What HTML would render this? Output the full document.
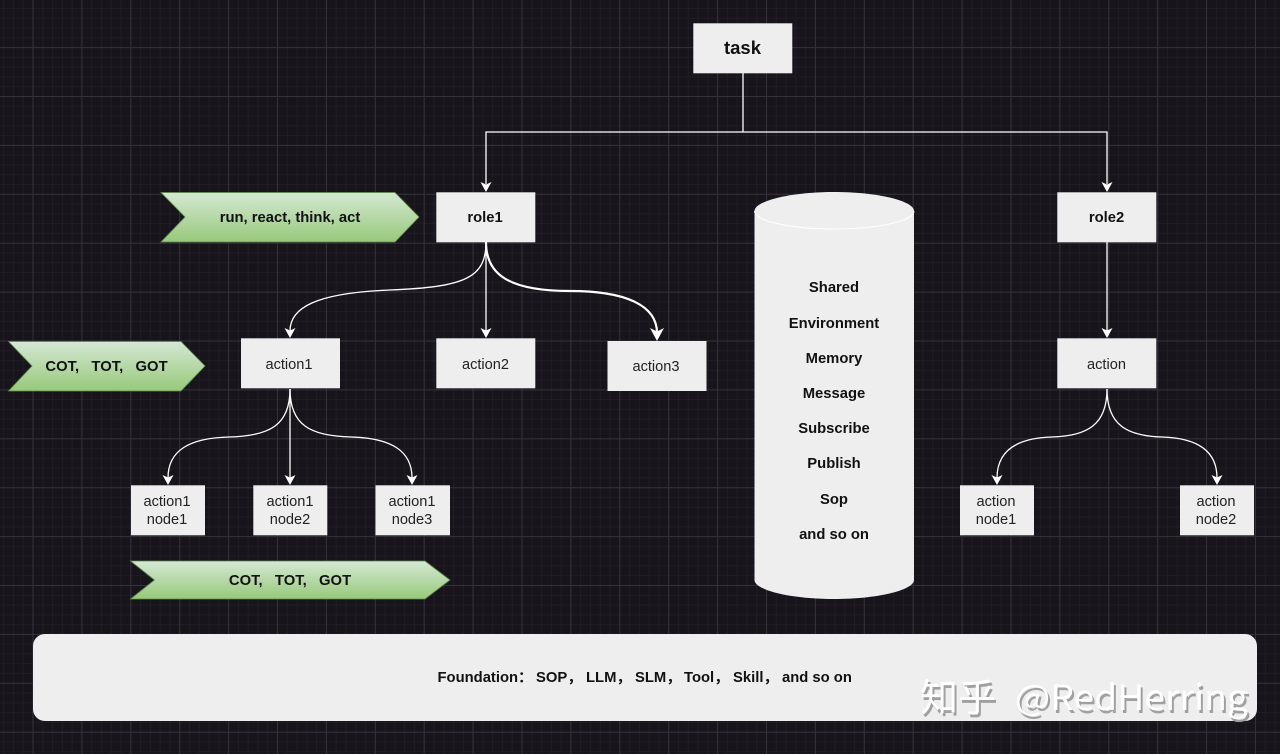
<!DOCTYPE html>
<html><head><meta charset="utf-8"><style>
html,body{margin:0;padding:0;background:#17151b;width:1280px;height:754px;overflow:hidden}
svg{display:block}
text{font-family:"Liberation Sans","Noto Sans CJK SC",sans-serif;text-anchor:middle;fill:#111}
.b{font-weight:700;font-size:14.8px}
.s{text-anchor:start}
.n{font-size:14.6px;fill:#222}
.c{fill:none;stroke:#fff;stroke-width:1.3}
.box{fill:#eee}
.ar{fill:#fff}
.wm{font-family:"Noto Sans CJK SC","Liberation Sans",sans-serif;text-anchor:start}
</style></head><body>
<svg width="1280" height="754" viewBox="0 0 1280 754" xmlns="http://www.w3.org/2000/svg">
<defs>
<pattern id="minor" width="9.78" height="9.78" patternUnits="userSpaceOnUse" x="28.11" y="42.7">
<path d="M4.89 0V9.78M0 4.89H9.78" stroke="#1f1d23" stroke-width="1" fill="none"/>
</pattern>
<pattern id="major" width="48.9" height="48.9" patternUnits="userSpaceOnUse" x="8.55" y="23.15">
<path d="M24.45 0V48.9M0 24.45H48.9" stroke="#343238" stroke-width="1" fill="none"/>
</pattern>
<linearGradient id="g" x1="0" y1="0" x2="0" y2="1">
<stop offset="0" stop-color="#d5e8d4"/><stop offset="1" stop-color="#97c97a"/>
</linearGradient>
<path id="ah" class="ar" d="M0 0L-5.500 -10L0 -7.500L5.500 -10Z"/>
<path id="ah2" class="ar" d="M0 0L-7 -13L0 -9.500L7 -13Z"/>
</defs>
<rect width="1280" height="754" fill="#17151b"/>
<rect width="1280" height="754" fill="url(#minor)"/>
<rect width="1280" height="754" fill="url(#major)"/>

<!-- connectors -->
<path class="c" d="M743 73V132M486 184V132H1107V184"/>
<use href="#ah" x="486" y="192"/><use href="#ah" x="1107" y="192"/>

<path class="c" d="M486 242C486 278 465 287 390 290C315 293 290 308 290 331"/>
<use href="#ah" x="290" y="338"/>
<path class="c" d="M486 242V331"/>
<use href="#ah" x="486" y="338"/>
<path class="c" style="stroke-width:2.2" d="M486 242C486 272 505 291 570 291C625 291 657 305 657 333"/>
<use href="#ah2" x="657" y="341"/>

<path class="c" d="M1107 242V331"/>
<use href="#ah" x="1107" y="338"/>

<path class="c" d="M290 389C290 425 270 436 229 437C190 438 168 450 168 478"/>
<use href="#ah" x="168" y="485"/>
<path class="c" d="M290 389V478"/>
<use href="#ah" x="290" y="485"/>
<path class="c" d="M290 389C290 425 310 436 351 437C390 438 412 450 412 478"/>
<use href="#ah" x="412" y="485"/>

<path class="c" d="M1107 389C1107 425 1087 436 1052 437C1018 438 997 450 997 478"/>
<use href="#ah" x="997" y="485"/>
<path class="c" d="M1107 389C1107 425 1127 436 1162 437C1196 438 1217 450 1217 478"/>
<use href="#ah" x="1217" y="485"/>

<!-- boxes -->
<rect class="box" x="693.300" y="23.300" width="99" height="50"/>
<text x="742.500" y="54" style="font-weight:700;font-size:18.500px">task</text>
<rect class="box" x="436.300" y="192.300" width="99" height="50"/>
<text class="b" x="485" y="222">role1</text>
<rect class="box" x="1057.300" y="192.300" width="99" height="50"/>
<text class="b" x="1106.500" y="222">role2</text>
<rect class="box" x="241" y="338.300" width="99" height="50"/>
<text class="n" x="289" y="369">action1</text>
<rect class="box" x="436.300" y="338.300" width="99" height="50"/>
<text class="n" x="485.500" y="369">action2</text>
<rect class="box" x="607.500" y="341" width="99" height="50"/>
<text class="n" x="656" y="371">action3</text>
<rect class="box" x="1057.300" y="338.300" width="99" height="50"/>
<text class="n" x="1106.500" y="369">action</text>

<rect class="box" x="131" y="485.300" width="74" height="50"/>
<text class="n" x="167" y="506">action1</text><text class="n" x="167" y="524">node1</text>
<rect class="box" x="253.300" y="485.300" width="74" height="50"/>
<text class="n" x="290" y="506">action1</text><text class="n" x="290" y="524">node2</text>
<rect class="box" x="375.500" y="485.300" width="74.500" height="50"/>
<text class="n" x="412" y="506">action1</text><text class="n" x="412" y="524">node3</text>
<rect class="box" x="960" y="485.300" width="74" height="50"/>
<text class="n" x="996" y="506">action</text><text class="n" x="996" y="524">node1</text>
<rect class="box" x="1180" y="485.300" width="74" height="50"/>
<text class="n" x="1216" y="506">action</text><text class="n" x="1216" y="524">node2</text>

<!-- green arrows -->
<path d="M161 192.500H395L419 217L395 242H161L185 217Z" fill="url(#g)" stroke="#5f8a4a" stroke-width="0.8"/>
<text class="b" x="290" y="222">run, react, think, act</text>
<path d="M8.500 341.500H181L205 366L181 391H8.500L32 366Z" fill="url(#g)" stroke="#5f8a4a" stroke-width="0.8"/>
<text class="b" x="106.500" y="371" xml:space="preserve">COT,   TOT,   GOT</text>
<path d="M130.500 561H425L450 580L425 599H130.500L154.500 580Z" fill="url(#g)" stroke="#5f8a4a" stroke-width="0.8"/>
<text class="b" x="290" y="585" xml:space="preserve">COT,   TOT,   GOT</text>

<!-- cylinder -->
<path d="M754.500 211C754.500 201 790 192 834 192C878 192 914 201 914 211V580C914 590 878 599 834 599C790 599 754.500 590 754.500 580Z" fill="#eee"/>
<path d="M754.500 211C754.500 221 790 229 834 229C878 229 914 221 914 211" fill="none" stroke="#fff" stroke-width="1"/>
<text class="b" x="834" y="292">Shared</text>
<text class="b" x="834" y="328">Environment</text>
<text class="b" x="834" y="363">Memory</text>
<text class="b" x="834" y="398">Message</text>
<text class="b" x="834" y="433">Subscribe</text>
<text class="b" x="834" y="468">Publish</text>
<text class="b" x="834" y="504">Sop</text>
<text class="b" x="834" y="539">and so on</text>

<!-- foundation -->
<rect x="33" y="634" width="1224" height="87" rx="12" ry="12" fill="#eee"/>
<text class="b s" x="437.500" y="682">Foundation：</text>
<text class="b s" x="536" y="682">SOP，</text>
<text class="b s" x="586" y="682">LLM，</text>
<text class="b s" x="635" y="682">SLM，</text>
<text class="b s" x="684" y="682">Tool，</text>
<text class="b s" x="733" y="682">Skill，</text>
<text class="b s" x="782" y="682">and so on</text>

<!-- watermark -->
<text class="wm" x="922" y="714" style="font-size:38px;fill:#a0a0a0">知乎</text>
<text class="wm" x="1017" y="713" textLength="233" lengthAdjust="spacingAndGlyphs" style="font-size:35px;fill:#a0a0a0">@RedHerring</text>
<text class="wm" x="920" y="711" style="font-size:38px;fill:#fff">知乎</text>
<text class="wm" x="1015" y="710" textLength="233" lengthAdjust="spacingAndGlyphs" style="font-size:35px;fill:#fff">@RedHerring</text>
</svg>
</body></html>
